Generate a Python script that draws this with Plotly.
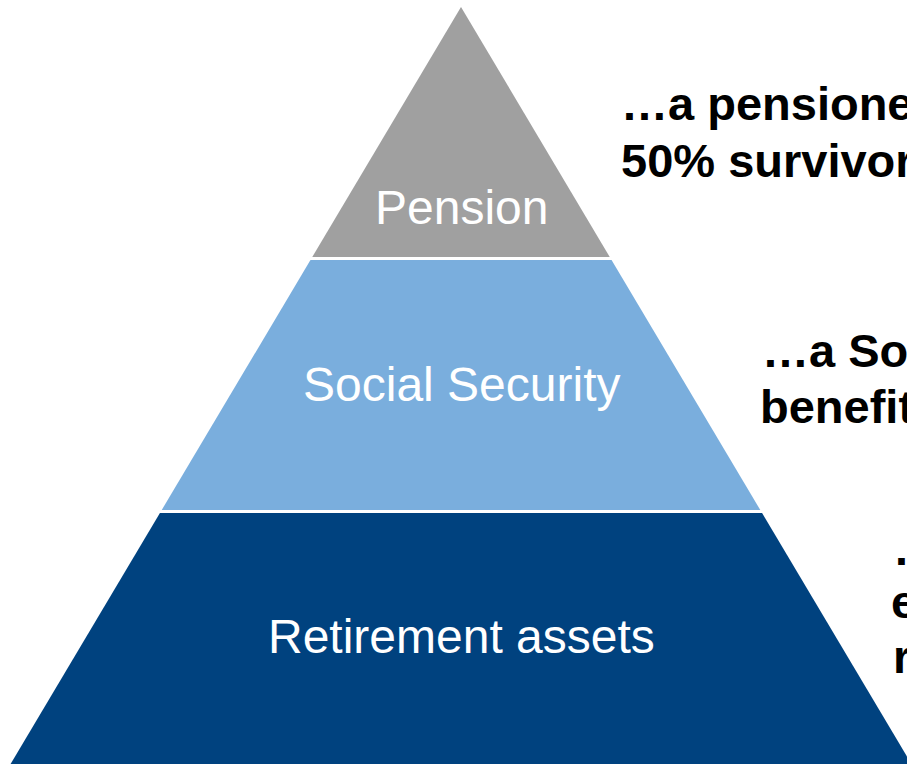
import plotly.graph_objects as go

# Pyramid layers (top to bottom)
layers = ["Pension", "Social Security", "Retirement assets"]
layer_top = [7, 260, 513]        # vertical position of each band top (canvas units, y downward)
layer_bottom = [257, 510, 764]   # vertical position of each band bottom
layer_colors = ["#a0a0a0", "#7aaedd", "#00427f"]
label_y = [207, 384, 636]

# Pyramid geometry
apex_x, apex_y = 461, 7
half_slope = 0.595  # horizontal half-width growth per unit of height

# Callout text lines (clipped at the right edge in the original)
callout_lines = ["…a pensioner", "50% survivor", "…a Social", "benefit", "…", "e", "r"]
callout_x = [619, 619, 760, 758, 891, 889, 891]
callout_y = [103, 160, 350, 406, 548, 601, 656]

W, H = 907, 764
fig = go.Figure()

def half_width(y):
    return (y - apex_y) * half_slope

for name, top, bot, col in zip(layers, layer_top, layer_bottom, layer_colors):
    xs = [apex_x - half_width(top), apex_x + half_width(top),
          apex_x + half_width(bot), apex_x - half_width(bot), apex_x - half_width(top)]
    ys = [top, top, bot, bot, top]
    fig.add_trace(go.Scatter(x=xs, y=ys, fill="toself", fillcolor=col,
                             mode="lines", line=dict(width=0, color=col),
                             hoverinfo="skip", showlegend=False))

for name, ly in zip(layers, label_y):
    fig.add_annotation(x=apex_x, y=ly, text=name, showarrow=False,
                       xref="x", yref="y", xanchor="center", yanchor="middle",
                       font=dict(family="Liberation Sans, Arial", size=48, color="white"))

for t, cx, cy in zip(callout_lines, callout_x, callout_y):
    fig.add_annotation(x=cx, y=cy, text="<b>" + t + "</b>", showarrow=False,
                       xref="x", yref="y", xanchor="left", yanchor="middle",
                       font=dict(family="Liberation Sans, Arial", size=47, color="black"))

fig.update_xaxes(range=[0, W], visible=False, fixedrange=True)
fig.update_yaxes(range=[H, 0], visible=False, fixedrange=True)
fig.update_layout(width=W, height=H, margin=dict(l=0, r=0, t=0, b=0),
                  paper_bgcolor="white", plot_bgcolor="white", showlegend=False)

fig.write_html("out.html", config={"displayModeBar": False})
